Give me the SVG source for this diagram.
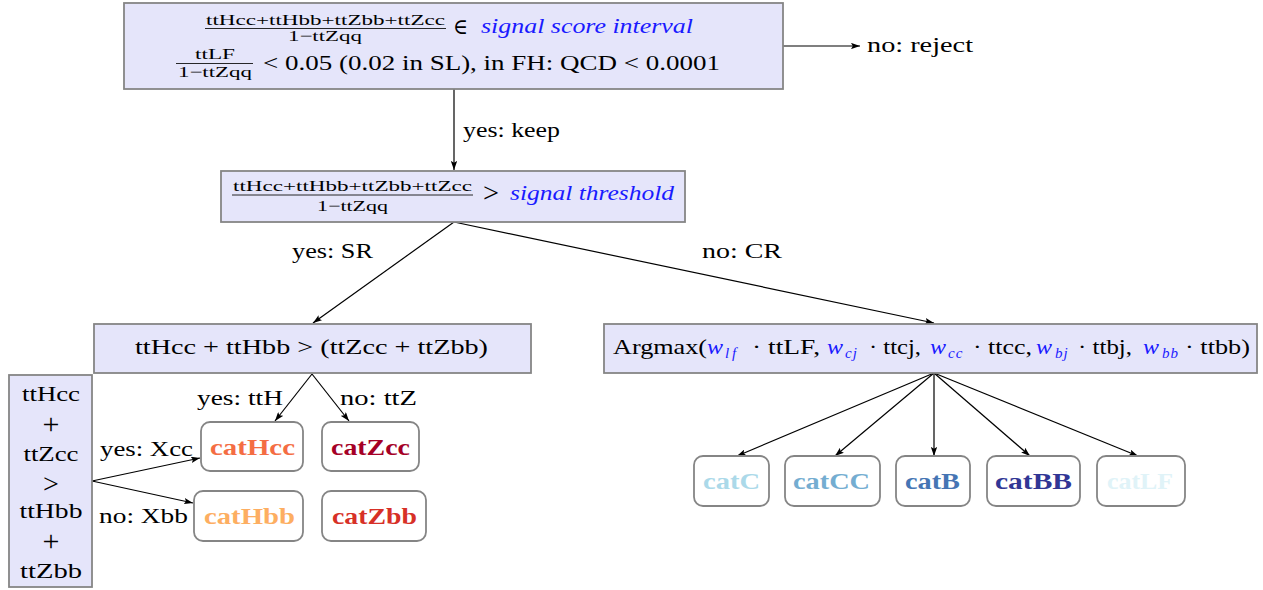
<svg xmlns="http://www.w3.org/2000/svg" width="1263" height="590" viewBox="0 0 1263 590" font-family="'Liberation Serif', 'Times New Roman', 'DejaVu Serif', serif">
  <defs>
    <marker id="ah" viewBox="0 0 10 7" refX="10" refY="3.5" markerWidth="9" markerHeight="6.3" markerUnits="userSpaceOnUse" orient="auto">
      <path d="M0,0 L10,3.5 L0,7 L2,3.5 z" fill="#000"/>
    </marker>
    <style>
      .box { fill: #e5e5fa; stroke: #858585; stroke-width: 1.8; }
      .cat { fill: #ffffff; stroke: #858585; stroke-width: 1.8; }
      text { font-family: "Liberation Serif", "Times New Roman", "DejaVu Serif", serif; fill: #000000; }
      .m { font-size: 22px; }
      .op { font-size: 28px; }
      .plus { font-size: 30px; }
      .s { font-size: 15px; }
      .sub { font-size: 15px; }
      .b { font-size: 23px; font-weight: bold; }
      .bl { fill: #1a1aff; font-style: italic; }
      .bar { stroke: #111111; stroke-width: 0.9; }
      .edge { stroke: #000000; stroke-width: 1.2; fill: none; marker-end: url(#ah); }
    </style>
  </defs>

  <rect width="1263" height="590" fill="#ffffff"/>

  <!-- connectors and their labels -->
  <g id="connectors">
    <line class="edge" x1="454" y1="89" x2="454" y2="170"/>
    <line class="edge" x1="783" y1="46" x2="860" y2="46"/>
    <line class="edge" x1="454" y1="222" x2="313" y2="323"/>
    <line class="edge" x1="454" y1="222" x2="934" y2="323"/>
    <line class="edge" x1="312" y1="374" x2="275" y2="421"/>
    <line class="edge" x1="312" y1="374" x2="349" y2="421"/>
    <line class="edge" x1="92" y1="481" x2="200" y2="458"/>
    <line class="edge" x1="92" y1="481" x2="193" y2="503"/>
    <line class="edge" x1="934" y1="373" x2="737" y2="456"/>
    <line class="edge" x1="934" y1="373" x2="835" y2="456"/>
    <line class="edge" x1="934" y1="373" x2="934" y2="456"/>
    <line class="edge" x1="934" y1="373" x2="1030" y2="456"/>
    <line class="edge" x1="934" y1="373" x2="1138" y2="456"/>

    <text class="m" x="867" y="52" textLength="106" lengthAdjust="spacingAndGlyphs">no: reject</text>
    <text class="m" x="463" y="137" textLength="97" lengthAdjust="spacingAndGlyphs">yes: keep</text>
    <text class="m" x="292" y="258" textLength="81" lengthAdjust="spacingAndGlyphs">yes: SR</text>
    <text class="m" x="702" y="258" textLength="80" lengthAdjust="spacingAndGlyphs">no: CR</text>
    <text class="m" x="197" y="405" textLength="86" lengthAdjust="spacingAndGlyphs">yes: ttH</text>
    <text class="m" x="340" y="405" textLength="77" lengthAdjust="spacingAndGlyphs">no: ttZ</text>
    <text class="m" x="100" y="456" textLength="93" lengthAdjust="spacingAndGlyphs">yes: Xcc</text>
    <text class="m" x="99" y="523" textLength="89" lengthAdjust="spacingAndGlyphs">no: Xbb</text>
  </g>

  <!-- preselection cut -->
  <g id="preselection">
    <rect class="box" x="124" y="3" width="659" height="86"/>
    <text class="s" x="206" y="25" textLength="239" lengthAdjust="spacingAndGlyphs">ttHcc+ttHbb+ttZbb+ttZcc</text>
    <line class="bar" x1="205" y1="28.5" x2="446" y2="28.5"/>
    <text class="s" x="288" y="41" textLength="74" lengthAdjust="spacingAndGlyphs">1−ttZqq</text>
    <text class="m" x="453" y="34" textLength="15" lengthAdjust="spacingAndGlyphs">∈</text>
    <text class="m bl" x="481" y="33" textLength="212" lengthAdjust="spacingAndGlyphs">signal score interval</text>
    <text class="s" x="195" y="59" textLength="40" lengthAdjust="spacingAndGlyphs">ttLF</text>
    <line class="bar" x1="176" y1="63.5" x2="253" y2="63.5"/>
    <text class="s" x="178" y="77" textLength="74" lengthAdjust="spacingAndGlyphs">1−ttZqq</text>
    <text class="m" x="263" y="70" textLength="457" lengthAdjust="spacingAndGlyphs">&lt; 0.05 (0.02 in SL), in FH: QCD &lt; 0.0001</text>
  </g>

  <!-- signal threshold -->
  <g id="threshold">
    <rect class="box" x="221" y="171" width="464" height="51"/>
    <text class="s" x="233" y="191" textLength="239" lengthAdjust="spacingAndGlyphs">ttHcc+ttHbb+ttZbb+ttZcc</text>
    <line class="bar" x1="232" y1="195" x2="473" y2="195"/>
    <text class="s" x="317" y="211" textLength="71" lengthAdjust="spacingAndGlyphs">1−ttZqq</text>
    <text class="op" x="483" y="202" textLength="16" lengthAdjust="spacingAndGlyphs">&gt;</text>
    <text class="m bl" x="510" y="200" textLength="164" lengthAdjust="spacingAndGlyphs">signal threshold</text>
  </g>

  <!-- signal region split -->
  <g id="sr-split">
    <rect class="box" x="94" y="324" width="437" height="49"/>
    <text class="m" x="135" y="354" textLength="353" lengthAdjust="spacingAndGlyphs">ttHcc + ttHbb &gt; (ttZcc + ttZbb)</text>
  </g>

  <!-- control region argmax -->
  <g id="cr-argmax">
    <rect class="box" x="604" y="324" width="653" height="49"/>
    <text class="m" x="613" y="354" textLength="94" lengthAdjust="spacingAndGlyphs">Argmax(</text>
    <text class="m bl" x="707" y="354" textLength="16" lengthAdjust="spacingAndGlyphs">w</text>
    <text class="sub bl" y="358"><tspan x="725">l</tspan><tspan x="732">f</tspan></text>
    <text class="m" x="752" y="354" textLength="68" lengthAdjust="spacingAndGlyphs">· ttLF,</text>
    <text class="m bl" x="827" y="354" textLength="16" lengthAdjust="spacingAndGlyphs">w</text>
    <text class="sub bl" x="845" y="358" letter-spacing="1">cj</text>
    <text class="m" x="869" y="354" textLength="52" lengthAdjust="spacingAndGlyphs">· ttcj,</text>
    <text class="m bl" x="930" y="354" textLength="16" lengthAdjust="spacingAndGlyphs">w</text>
    <text class="sub bl" x="948" y="358" letter-spacing="1">cc</text>
    <text class="m" x="973" y="354" textLength="59" lengthAdjust="spacingAndGlyphs">· ttcc,</text>
    <text class="m bl" x="1036" y="354" textLength="16" lengthAdjust="spacingAndGlyphs">w</text>
    <text class="sub bl" x="1055" y="358" letter-spacing="1">bj</text>
    <text class="m" x="1078" y="354" textLength="54" lengthAdjust="spacingAndGlyphs">· ttbj,</text>
    <text class="m bl" x="1143" y="354" textLength="16" lengthAdjust="spacingAndGlyphs">w</text>
    <text class="sub bl" x="1162" y="358" letter-spacing="1">bb</text>
    <text class="m" x="1185" y="354" textLength="65" lengthAdjust="spacingAndGlyphs">· ttbb)</text>
  </g>

  <!-- cc versus bb split -->
  <g id="x-split">
    <rect class="box" x="9" y="375" width="83" height="212"/>
    <g text-anchor="middle">
      <text class="m" x="51" y="401" textLength="58" lengthAdjust="spacingAndGlyphs">ttHcc</text>
      <text class="plus" x="51" y="434">+</text>
      <text class="m" x="51" y="461" textLength="55" lengthAdjust="spacingAndGlyphs">ttZcc</text>
      <text class="op" x="51" y="493">&gt;</text>
      <text class="m" x="51" y="518" textLength="63" lengthAdjust="spacingAndGlyphs">ttHbb</text>
      <text class="plus" x="51" y="551">+</text>
      <text class="m" x="51" y="578" textLength="62" lengthAdjust="spacingAndGlyphs">ttZbb</text>
    </g>
  </g>

  <!-- signal region categories -->
  <g id="catHcc">
    <rect class="cat" x="201" y="422" width="102" height="49" rx="9"/>
    <text class="b" x="210" y="455" textLength="85" lengthAdjust="spacingAndGlyphs" style="fill:#f46d43">catHcc</text>
  </g>
  <g id="catZcc">
    <rect class="cat" x="322" y="422" width="97" height="49" rx="9"/>
    <text class="b" x="331" y="455" textLength="79" lengthAdjust="spacingAndGlyphs" style="fill:#a50026">catZcc</text>
  </g>
  <g id="catHbb">
    <rect class="cat" x="194" y="491" width="109" height="50" rx="9"/>
    <text class="b" x="204" y="524" textLength="91" lengthAdjust="spacingAndGlyphs" style="fill:#fdae61">catHbb</text>
  </g>
  <g id="catZbb">
    <rect class="cat" x="322" y="491" width="104" height="50" rx="9"/>
    <text class="b" x="332" y="524" textLength="85" lengthAdjust="spacingAndGlyphs" style="fill:#d73027">catZbb</text>
  </g>

  <!-- control region categories -->
  <g id="catC">
    <rect class="cat" x="694" y="456" width="75" height="50" rx="9"/>
    <text class="b" x="703" y="489" textLength="57" lengthAdjust="spacingAndGlyphs" style="fill:#abd9e9">catC</text>
  </g>
  <g id="catCC">
    <rect class="cat" x="785" y="456" width="95" height="50" rx="9"/>
    <text class="b" x="793" y="489" textLength="77" lengthAdjust="spacingAndGlyphs" style="fill:#74add1">catCC</text>
  </g>
  <g id="catB">
    <rect class="cat" x="896" y="456" width="74" height="50" rx="9"/>
    <text class="b" x="905" y="489" textLength="55" lengthAdjust="spacingAndGlyphs" style="fill:#4575b4">catB</text>
  </g>
  <g id="catBB">
    <rect class="cat" x="987" y="456" width="93" height="50" rx="9"/>
    <text class="b" x="995" y="489" textLength="77" lengthAdjust="spacingAndGlyphs" style="fill:#313695">catBB</text>
  </g>
  <g id="catLF">
    <rect class="cat" x="1097" y="456" width="88" height="50" rx="9"/>
    <text class="b" x="1107" y="489" textLength="66" lengthAdjust="spacingAndGlyphs" style="fill:#e0f3f8">catLF</text>
  </g>
</svg>
